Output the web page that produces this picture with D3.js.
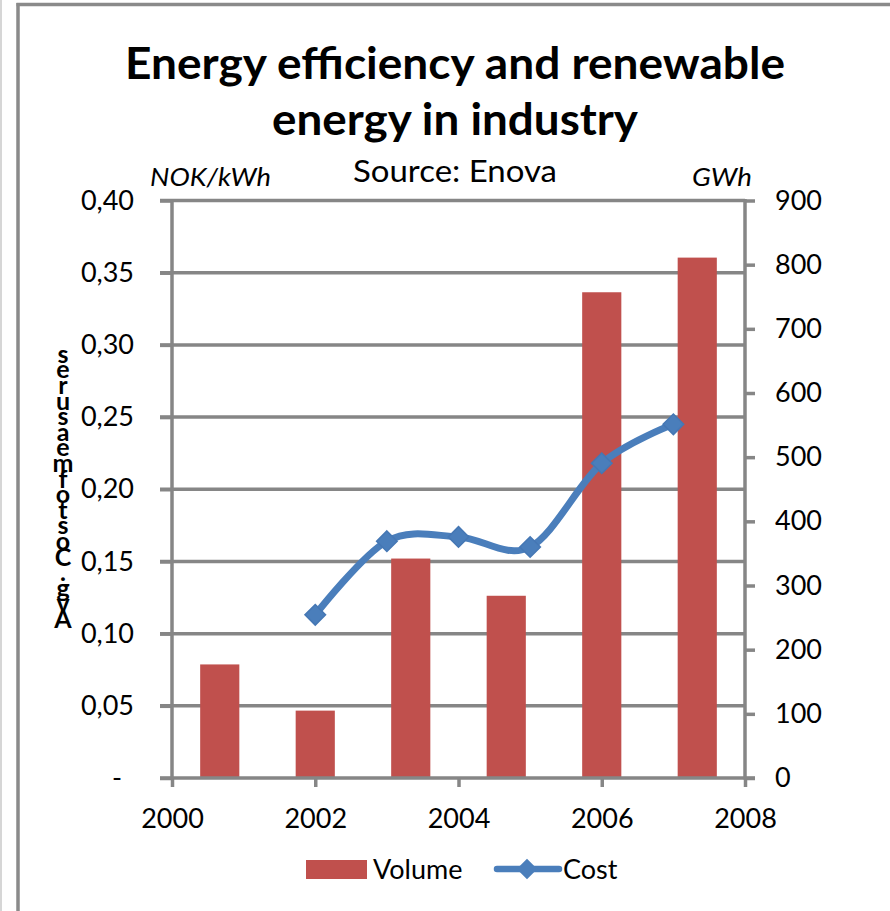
<!DOCTYPE html>
<html>
<head>
<meta charset="utf-8">
<script src="https://cdn.jsdelivr.net/npm/d3@7"></script>
<style>
  html, body { margin: 0; padding: 0; background: #fff; }
  svg { display: block; }
  text { font-family: Lato, "Open Sans", sans-serif; fill: #000; }
</style>
</head>
<body>
<svg id="chart" width="890" height="911"></svg>
<script>
// ---- data ----
const barCategories = ["2002", "2003", "2004", "2005", "2006", "2007"];
const volumeGWh = [177, 105, 342, 284, 757, 811];
const costYears = [2002, 2003, 2004, 2005, 2006, 2007];
const costNOK = [0.113, 0.164, 0.167, 0.160, 0.218, 0.245];
const leftTicks = [0, 0.05, 0.10, 0.15, 0.20, 0.25, 0.30, 0.35, 0.40];
const rightTicks = [0, 100, 200, 300, 400, 500, 600, 700, 800, 900];
const xTicks = [2000, 2002, 2004, 2006, 2008];
const titleLines = ["Energy efficiency and renewable", "energy in industry"];
const subtitle = "Source: Enova";
const leftUnit = "NOK/kWh";
const rightUnit = "GWh";
const leftAxisTitle = "Avg. Cost of measures";
const legendItems = ["Volume", "Cost"];

// ---- layout ----
const svg = d3.select("#chart");
const L = 172, R = 745, T = 200.5, B = 778;
const gridColor = "#868686";
const barColor = "#c0504d";
const lineColor = "#4a7ebb";

const yLeft = d3.scaleLinear().domain([0, 0.40]).range([B, T]);
const yRight = d3.scaleLinear().domain([0, 900]).range([B, T]);
const xYear = d3.scaleLinear().domain([2000, 2008]).range([L, R]);
const xBand = d3.scaleBand().domain(barCategories).range([L, R]).paddingInner(0.59).paddingOuter(0.295);

// frame
svg.append("line").attr("x1", 1).attr("x2", 1).attr("y1", 0).attr("y2", 911)
  .attr("stroke", "#c8c8c8").attr("stroke-width", 1.5);
svg.append("line").attr("x1", 18).attr("x2", 18).attr("y1", 3).attr("y2", 911)
  .attr("stroke", "#8a8a8a").attr("stroke-width", 3.5);
svg.append("line").attr("x1", 16.5).attr("x2", 890).attr("y1", 4.5).attr("y2", 4.5)
  .attr("stroke", "#8a8a8a").attr("stroke-width", 3.5);

// gridlines (left axis ticks) with outward tick
const fmtLeft = v => v === 0 ? "-" : d3.format(".2f")(v).replace(".", ",");
svg.append("g").selectAll("line").data(leftTicks.filter(d => d > 0)).join("line")
  .attr("x1", L - 12).attr("x2", R).attr("y1", d => yLeft(d)).attr("y2", d => yLeft(d))
  .attr("stroke", gridColor).attr("stroke-width", 3.5);

// left axis ticks and labels via d3 axis
const gLeft = svg.append("g").attr("transform", `translate(${L},0)`)
  .call(d3.axisLeft(yLeft).tickValues(leftTicks).tickFormat(fmtLeft).tickSize(12).tickPadding(26));
gLeft.select(".domain").remove();
gLeft.selectAll(".tick line").attr("stroke", gridColor).attr("stroke-width", 3.5);
gLeft.selectAll(".tick text").attr("font-size", 27).attr("font-family", "Lato, sans-serif").attr("fill", "#000");
gLeft.selectAll(".tick text").filter(d => d === 0).attr("text-anchor", "middle").attr("x", -55);

// right axis
const gRight = svg.append("g").attr("transform", `translate(${R},0)`)
  .call(d3.axisRight(yRight).tickValues(rightTicks).tickSize(10).tickPadding(20));
gRight.select(".domain").remove();
gRight.selectAll(".tick line").attr("stroke", gridColor).attr("stroke-width", 3.5);
gRight.selectAll(".tick text").attr("font-size", 27).attr("font-family", "Lato, sans-serif").attr("fill", "#000");

// bottom axis
const gBottom = svg.append("g").attr("transform", `translate(0,${B})`)
  .call(d3.axisBottom(xYear).tickValues(xTicks).tickFormat(d3.format("d")).tickSize(9).tickPadding(22));
gBottom.select(".domain").remove();
gBottom.selectAll(".tick line").attr("stroke", gridColor).attr("stroke-width", 3.5);
gBottom.selectAll(".tick text").attr("font-size", 27).attr("font-family", "Lato, sans-serif").attr("fill", "#000");

// bars
svg.append("g").selectAll("rect").data(barCategories).join("rect")
  .attr("x", d => xBand(d)).attr("width", xBand.bandwidth())
  .attr("y", (d, i) => yRight(volumeGWh[i])).attr("height", (d, i) => B - yRight(volumeGWh[i]))
  .attr("fill", barColor);

// axis lines on top
svg.append("line").attr("x1", L).attr("x2", L).attr("y1", T - 1.5).attr("y2", B + 1.5)
  .attr("stroke", gridColor).attr("stroke-width", 3.5);
svg.append("line").attr("x1", R).attr("x2", R).attr("y1", T - 1.5).attr("y2", B + 1.5)
  .attr("stroke", gridColor).attr("stroke-width", 3.5);
svg.append("line").attr("x1", L - 12).attr("x2", R + 10).attr("y1", B).attr("y2", B)
  .attr("stroke", gridColor).attr("stroke-width", 3.5);

// cost line
const pts = costYears.map((y, i) => [xYear(y), yLeft(costNOK[i])]);
svg.append("path").datum(pts)
  .attr("d", d3.line().curve(d3.curveCatmullRom.alpha(0)))
  .attr("fill", "none").attr("stroke", lineColor).attr("stroke-width", 7)
  .attr("stroke-linejoin", "round").attr("stroke-linecap", "round");
const diamond = d3.symbol().type(d3.symbolDiamond2).size(270);
svg.append("g").selectAll("path").data(pts).join("path")
  .attr("transform", d => `translate(${d[0]},${d[1]})`)
  .attr("d", diamond).attr("fill", lineColor).attr("stroke", "#4577b4").attr("stroke-width", 1.5);

// titles
svg.append("text").attr("x", 455).attr("y", 79).attr("text-anchor", "middle")
  .attr("font-size", 43).attr("font-weight", 700)
  .attr("textLength", 660).attr("lengthAdjust", "spacingAndGlyphs").text(titleLines[0]);
svg.append("text").attr("x", 455).attr("y", 135).attr("text-anchor", "middle")
  .attr("font-size", 43).attr("font-weight", 700)
  .attr("textLength", 366).attr("lengthAdjust", "spacingAndGlyphs").text(titleLines[1]);
svg.append("text").attr("x", 455).attr("y", 182).attr("text-anchor", "middle")
  .attr("font-size", 30).attr("textLength", 204).attr("lengthAdjust", "spacingAndGlyphs").text(subtitle);
svg.append("text").attr("x", 150).attr("y", 186)
  .attr("font-size", 26).attr("font-style", "italic")
  .attr("textLength", 121).attr("lengthAdjust", "spacingAndGlyphs").text(leftUnit);
svg.append("text").attr("x", 692).attr("y", 186)
  .attr("font-size", 26).attr("font-style", "italic")
  .attr("textLength", 60).attr("lengthAdjust", "spacingAndGlyphs").text(rightUnit);

// garbled stacked left axis title (letters stacked bottom-up, upright; spaces take no slot)
const chars = leftAxisTitle.split("");
let slot = 0;
const charPos = chars.map(c => { const p = slot; if (c !== " ") slot++; return p; });
svg.append("g").selectAll("text").data(chars).join("text")
  .attr("x", 63).attr("y", (d, i) => 628 - charPos[i] * 15.6)
  .attr("text-anchor", "middle").attr("font-size", 25).attr("font-weight", 700)
  .text(d => d);

// legend
svg.append("rect").attr("x", 306).attr("y", 860).attr("width", 61).attr("height", 19).attr("fill", barColor);
svg.append("text").attr("x", 373).attr("y", 879).attr("font-size", 27).text(legendItems[0]);
svg.append("line").attr("x1", 497).attr("x2", 559).attr("y1", 869).attr("y2", 869)
  .attr("stroke", lineColor).attr("stroke-width", 6.5).attr("stroke-linecap", "round");
svg.append("path").attr("transform", "translate(527,869)").attr("d", diamond)
  .attr("fill", lineColor);
svg.append("text").attr("x", 563).attr("y", 879).attr("font-size", 27).text(legendItems[1]);
</script>
</body>
</html>
